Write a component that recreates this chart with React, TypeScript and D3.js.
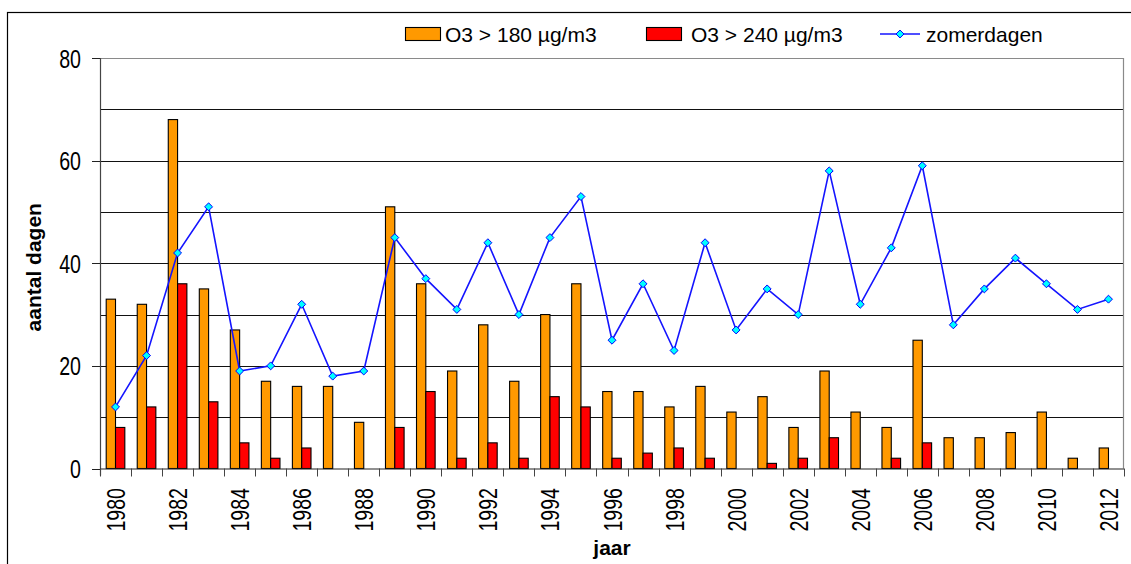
import React, { useEffect, useRef } from 'react';
import * as d3 from 'd3';

// data
const years = [
  '1980', '1981', '1982', '1983', '1984', '1985', '1986', '1987', '1988', '1989', '1990',
  '1991', '1992', '1993', '1994', '1995', '1996', '1997', '1998', '1999', '2000',
  '2001', '2002', '2003', '2004', '2005', '2006', '2007', '2008', '2009', '2010', '2011', '2012',
];
const o3Over180 = [33, 32, 68, 35, 27, 17, 16, 16, 9, 51, 36, 19, 28, 17, 30, 36, 15, 15, 12, 16, 11, 14, 8, 19, 11, 8, 25, 6, 6, 7, 11, 2, 4];
const o3Over240 = [8, 12, 36, 13, 5, 2, 4, 0, 0, 8, 15, 2, 5, 2, 14, 12, 2, 3, 4, 2, 0, 1, 2, 6, 0, 2, 5, 0, 0, 0, 0, 0, 0];
const zomerdagen = [12, 22, 42, 51, 19, 20, 32, 18, 19, 45, 37, 31, 44, 30, 45, 53, 25, 36, 23, 44, 27, 35, 30, 58, 32, 43, 59, 28, 35, 41, 36, 31, 33];
const yTicks = [0, 20, 40, 60, 80];
const gridValues = [10, 20, 30, 40, 50, 60, 70];
const seriesNames = ['O3 > 180 µg/m3', 'O3 > 240 µg/m3', 'zomerdagen'];

const FONT = '"Liberation Sans", Arial, sans-serif';

function App() {
  const ref = useRef<SVGSVGElement>(null);

  useEffect(() => {
    const svg = d3.select(ref.current);
    svg.selectAll('*').remove();

    const width = 1131;
    const height = 564;
    const margin = { top: 58, right: 7, bottom: 95.5, left: 100 };
    const innerBottom = height - margin.bottom;

    const x = d3.scaleBand()
      .domain(years)
      .range([margin.left, width - margin.right])
      .padding(0);
    const xSeries = d3.scaleBand()
      .domain(['a', 'b'])
      .range([x.bandwidth() * 0.2, x.bandwidth() * 0.8])
      .padding(0);
    const y = d3.scaleLinear()
      .domain([0, 80])
      .range([innerBottom, margin.top]);

    // outer chart frame (cut off at right/bottom)
    svg.append('rect')
      .attr('x', 7.5).attr('y', 12.5)
      .attr('width', 1200).attr('height', 700)
      .attr('fill', '#fff').attr('stroke', '#000').attr('stroke-width', 1.2);

    // gridlines
    svg.append('g')
      .selectAll('line')
      .data(gridValues)
      .enter()
      .append('line')
      .attr('x1', margin.left).attr('x2', width - margin.right)
      .attr('y1', d => Math.round(y(d)) + 0.5).attr('y2', d => Math.round(y(d)) + 0.5)
      .attr('stroke', '#111').attr('stroke-width', 1);

    // plot border top / right
    svg.append('path')
      .attr('d', `M${margin.left},${Math.round(y(80)) + 0.5}H${width - margin.right - 0.5}V${innerBottom}`)
      .attr('fill', 'none').attr('stroke', '#8a8a8a').attr('stroke-width', 1.2);

    // bars
    const bars = [
      { key: 'a', values: o3Over180, color: '#FF9900' },
      { key: 'b', values: o3Over240, color: '#FF0000' },
    ];
    bars.forEach(s => {
      svg.append('g')
        .selectAll('rect')
        .data(years.map((yr, i) => ({ yr, v: s.values[i] })).filter(d => d.v > 0))
        .enter()
        .append('rect')
        .attr('x', d => (x(d.yr) as number) + (xSeries(s.key) as number))
        .attr('y', d => y(d.v))
        .attr('width', xSeries.bandwidth())
        .attr('height', d => innerBottom - y(d.v))
        .attr('fill', s.color)
        .attr('stroke', '#000')
        .attr('stroke-width', 1.1);
    });

    // y axis
    const yAxis = svg.append('g');
    yAxis.append('line')
      .attr('x1', margin.left + 0.5).attr('x2', margin.left + 0.5)
      .attr('y1', y(80)).attr('y2', innerBottom + 7)
      .attr('stroke', '#444').attr('stroke-width', 1.2);
    yAxis.selectAll('line.tick')
      .data(yTicks)
      .enter()
      .append('line')
      .attr('class', 'tick')
      .attr('x1', margin.left - 8).attr('x2', margin.left)
      .attr('y1', d => Math.round(y(d)) + 0.5).attr('y2', d => Math.round(y(d)) + 0.5)
      .attr('stroke', '#222');
    yAxis.selectAll('text')
      .data(yTicks)
      .enter()
      .append('text')
      .attr('transform', d => `translate(81, ${y(d)}) scale(0.74, 1)`)
      .attr('text-anchor', 'end')
      .attr('dy', '0.36em')
      .attr('font-family', FONT)
      .attr('font-size', 26.5)
      .attr('fill', '#000')
      .text(d => d);

    // x axis
    const xAxis = svg.append('g');
    xAxis.append('line')
      .attr('x1', margin.left).attr('x2', width - margin.right)
      .attr('y1', innerBottom + 0.5).attr('y2', innerBottom + 0.5)
      .attr('stroke', '#222').attr('stroke-width', 1.2);
    const boundaries = years.map(d => x(d) as number).concat([width - margin.right]);
    xAxis.selectAll('line.tick')
      .data(boundaries)
      .enter()
      .append('line')
      .attr('class', 'tick')
      .attr('x1', d => Math.round(d) + 0.5).attr('x2', d => Math.round(d) + 0.5)
      .attr('y1', innerBottom).attr('y2', innerBottom + 8)
      .attr('stroke', '#444');
    xAxis.selectAll('text')
      .data(years.filter((_, i) => i % 2 === 0))
      .enter()
      .append('text')
      .attr('transform', d => `translate(${(x(d) as number) + x.bandwidth() / 2}, 488) rotate(-90) scale(0.74, 1)`)
      .attr('text-anchor', 'end')
      .attr('dy', '0.36em')
      .attr('font-family', FONT)
      .attr('font-size', 26.5)
      .attr('fill', '#000')
      .text(d => d);

    // axis titles
    svg.append('text')
      .attr('transform', `translate(33, ${(margin.top + innerBottom) / 2 + 4}) rotate(-90)`)
      .attr('text-anchor', 'middle')
      .attr('dy', '0.36em')
      .attr('font-family', FONT)
      .attr('font-weight', 'bold')
      .attr('font-size', 21)
      .text('aantal dagen');
    svg.append('text')
      .attr('x', (margin.left + width - margin.right) / 2)
      .attr('y', 555)
      .attr('text-anchor', 'middle')
      .attr('font-family', FONT)
      .attr('font-weight', 'bold')
      .attr('font-size', 21)
      .text('jaar');

    // zomerdagen line
    const cx = (d: string) => (x(d) as number) + x.bandwidth() / 2;
    const line = d3.line<number>()
      .x((_, i) => cx(years[i]))
      .y(d => y(d));
    svg.append('path')
      .datum(zomerdagen)
      .attr('d', line)
      .attr('fill', 'none')
      .attr('stroke', '#1414FF')
      .attr('stroke-width', 1.6);

    const diamond = d3.symbol().type(d3.symbolDiamond2).size(40);
    svg.append('g')
      .selectAll('path')
      .data(zomerdagen)
      .enter()
      .append('path')
      .attr('d', diamond)
      .attr('transform', (d, i) => `translate(${cx(years[i])}, ${y(d)})`)
      .attr('fill', '#00FFFF')
      .attr('stroke', '#0000FF')
      .attr('stroke-width', 1);

    // legend
    const legend = svg.append('g').attr('font-family', FONT).attr('font-size', 21);
    const swatches = [
      { x: 405, color: '#FF9900', tx: 445, label: seriesNames[0] },
      { x: 646, color: '#FF0000', tx: 691, label: seriesNames[1] },
    ];
    swatches.forEach(s => {
      legend.append('rect')
        .attr('x', s.x + 0.5).attr('y', 27.5)
        .attr('width', 35).attr('height', 13)
        .attr('fill', s.color).attr('stroke', '#000').attr('stroke-width', 1.1);
      legend.append('text')
        .attr('x', s.tx).attr('y', 42)
        .text(s.label);
    });
    legend.append('line')
      .attr('x1', 880).attr('x2', 920)
      .attr('y1', 34).attr('y2', 34)
      .attr('stroke', '#1414FF').attr('stroke-width', 1.6);
    legend.append('path')
      .attr('d', diamond)
      .attr('transform', 'translate(900, 34)')
      .attr('fill', '#00FFFF').attr('stroke', '#0000FF');
    legend.append('text')
      .attr('x', 926).attr('y', 42)
      .text(seriesNames[2]);
  }, []);

  return (
    <svg
      ref={ref}
      width={1131}
      height={564}
      style={{ position: 'absolute', left: 0, top: 0, background: '#fff' }}
    />
  );
}

export default App;
